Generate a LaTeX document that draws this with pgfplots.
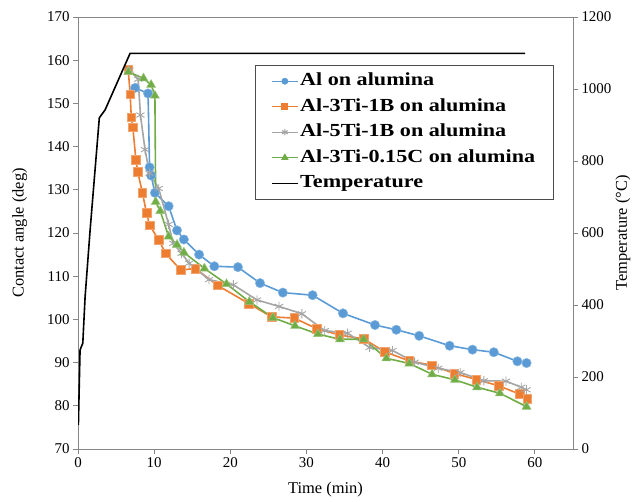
\documentclass[border=0pt]{standalone}
\usepackage{fontspec}
\setmainfont{Liberation Serif}
\newfontfamily\legfont{Liberation Serif}[FakeStretch=1.2]
\usepackage{pgfplots}
\pgfplotsset{compat=1.18}
\definecolor{cblue}{HTML}{5B9BD5}
\definecolor{corange}{HTML}{ED7D31}
\definecolor{cgray}{HTML}{A5A5A5}
\definecolor{cgreen}{HTML}{70AD47}
\definecolor{frame}{HTML}{868686}
\begin{document}
\begin{tikzpicture}
\pgfplotsset{
  common/.style={
    scale only axis, width=495bp, height=432bp,
    xmin=0, xmax=65,
    axis line style={frame, line width=0.9bp},
    tick style={frame, line width=0.9bp},
    tick align=outside,
    major tick length=5bp,
    tick label style={font=\fontsize{15}{18}\selectfont},
    label style={font=\fontsize{16.5}{20}\selectfont},
    /pgf/number format/assume math mode=true,
    /pgf/number format/1000 sep={},
  }
}
\begin{axis}[common, name=ax1,
  ymin=70, ymax=170,
  xtick={0,10,...,60}, ytick={70,80,...,170},
  xtick pos=bottom, ytick pos=left,
  xlabel={Time (min)}, ylabel={Contact angle (deg)},
  xlabel style={at={(axis description cs:0.5,-0.095)}, anchor=center},
  ylabel style={at={(axis description cs:-0.118,0.5)}, anchor=center},
]
\addplot[color=cblue, line width=1.6bp, mark=*, mark size=4.7bp, mark options={fill=cblue, draw=cblue!70!white, line width=0.5bp}] coordinates {
(7.5,153.6) (9.2,152.3) (9.4,135.2) (9.6,133.3) (10.1,129.3) (11.9,126.2) (13.0,120.6) (13.9,118.5) (15.9,115.0) (17.9,112.3) (21.0,112.1) (23.9,108.4) (26.9,106.2) (30.8,105.6) (34.8,101.4) (39.0,98.7) (41.8,97.6) (44.8,96.2) (48.8,93.9) (51.8,93.0) (54.6,92.4) (57.7,90.3) (58.9,89.9)};
\addplot[color=corange, line width=1.6bp, mark=square*, mark size=4.4bp, mark options={fill=corange, draw=corange!70!white, line width=0.5bp}] coordinates {
(6.6,157.7) (6.85,152.1) (7.0,146.8) (7.2,144.5) (7.6,137.0) (7.85,134.1) (8.45,129.4) (9.0,124.6) (9.4,121.8) (10.6,118.4) (11.5,115.3) (13.5,111.4) (15.4,111.8) (18.3,107.9) (22.4,103.7) (25.4,100.6) (28.4,100.3) (31.3,97.9) (34.3,96.4) (37.5,95.5) (40.3,92.5) (43.5,90.4) (46.4,89.4) (49.4,87.5) (52.3,86.1) (55.3,84.6) (58.0,82.7) (59.0,81.7)};
\addplot[color=cgray, line width=1.6bp, mark=asterisk, mark size=4.7bp, mark options={line width=0.9bp}] coordinates {
(6.75,157.7) (7.9,155.6) (8.2,147.3) (8.8,139.3) (9.4,133.8) (10.6,130.3) (11.9,122.0) (12.5,117.6) (13.6,115.3) (14.6,113.0) (17.2,109.2) (20.4,108.0) (23.5,104.5) (26.4,103.0) (29.4,101.3) (32.4,97.4) (35.4,96.8) (38.3,93.5) (41.3,92.8) (44.2,90.1) (47.3,88.7) (50.2,87.7) (53.3,85.8) (56.2,85.7) (58.2,84.3) (58.9,83.7)};
\addplot[color=cgreen, line width=1.6bp, mark=triangle*, mark size=5.2bp, mark options={fill=cgreen, draw=cgreen!70!white, line width=0.5bp}] coordinates {
(6.6,157.3) (8.6,155.8) (9.6,154.3) (10.1,151.8) (10.2,127.2) (10.8,125.1) (11.9,119.2) (13.0,117.3) (13.9,115.5) (16.6,111.8) (19.5,108.2) (22.5,104.1) (25.6,100.4) (28.5,98.5) (31.5,96.6) (34.4,95.4) (37.5,95.4) (40.5,91.0) (43.5,89.8) (46.5,87.3) (49.5,86.0) (52.4,84.3) (55.4,82.9) (58.9,79.8)};
\end{axis}
\begin{axis}[common, name=ax2,
  ymin=0, ymax=1200,
  axis x line=none, axis y line*=right,
  ytick={0,200,...,1200},
  ylabel={Temperature (°C)},
  ylabel style={at={(axis description cs:1.101,0.5)}, anchor=center},
  legend style={at={(axis description cs:0.358,0.889)}, anchor=north west,
    draw=black!70, line width=0.6bp, fill=white,
    font=\legfont\bfseries\fontsize{18.5}{22}\selectfont,
    nodes={text height=13.5bp, text depth=4.5bp},
    row sep=3.5bp, inner xsep=16bp, inner ysep=5bp},
  legend cell align=left,
  legend image code/.code={\draw[mark repeat=2,mark phase=2] plot coordinates {(0cm,0cm)(0.45cm,0cm)(0.9cm,0cm)};},
  legend image post style={line width=1.2bp},
]
\draw[frame, line width=0.9bp] (axis description cs:0,1) -- (axis description cs:1,1);
\addlegendimage{color=cblue, mark=*, mark size=2.8bp, mark options={fill=cblue}}
\addlegendentry{Al on alumina}
\addlegendimage{color=corange, mark=square*, mark size=2.8bp, mark options={fill=corange}}
\addlegendentry{Al-3Ti-1B on alumina}
\addlegendimage{color=cgray, mark=asterisk, mark size=3.2bp}
\addlegendentry{Al-5Ti-1B on alumina}
\addlegendimage{color=cgreen, mark=triangle*, mark size=3.2bp, mark options={fill=cgreen}}
\addlegendentry{Al-3Ti-0.15C on alumina}
\addplot[color=black, line width=1.6bp] coordinates {
(0.05,67) (0.27,275) (0.63,294) (0.93,422) (1.59,608) (2.8,920) (3.56,942) (6.84,1099) (58.7,1099)};
\addlegendentry{Temperature}
\end{axis}
\pgfresetboundingbox
\path (ax1.south west) +(-78bp,-53bp) rectangle +(561bp,449bp);
\end{tikzpicture}
\end{document}
